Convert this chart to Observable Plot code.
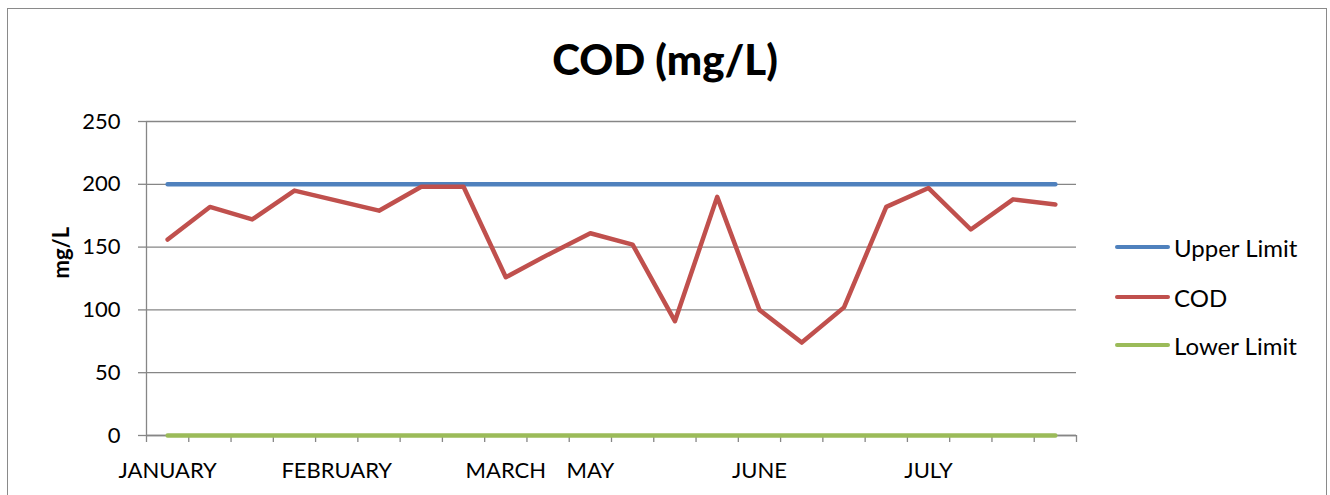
<!DOCTYPE html>
<html>
<head>
<meta charset="utf-8">
<script src="https://cdn.jsdelivr.net/npm/d3@7"></script>
<script src="https://cdn.jsdelivr.net/npm/@observablehq/plot@0.6"></script>
<style>
  html, body { margin: 0; padding: 0; background: #fff; }
  #wrap { position: relative; width: 1330px; height: 495px; overflow: hidden; font-family: Lato, "Open Sans", sans-serif; color: #000; }
  #frame { position: absolute; left: 7px; top: 8px; width: 1320px; height: 540px; border: 1.5px solid #8a8a8a; box-sizing: border-box; }
  #title { position: absolute; left: 0; top: 38px; width: 1330px; text-align: center; font-weight: 900; font-size: 42px; line-height: 42px; }
  #chart { position: absolute; left: 0; top: 100px; }
  .row { position: absolute; left: 1115px; height: 24px; display: flex; align-items: center; font-size: 24px; }
  .swatch { width: 55px; height: 4.5px; border-radius: 3px; margin-right: 4px; }
</style>
</head>
<body>
<div id="wrap">
  <div id="frame"></div>
  <div id="title">COD (mg/L)</div>
  <div id="chart"></div>
  <div id="legend"></div>
</div>
<script>
const categoryLabels = ["JANUARY", "", "", "", "FEBRUARY", "", "", "", "MARCH", "", "MAY", "", "", "", "JUNE", "", "", "", "JULY", "", "", ""];
const codValues = [156, 182, 172, 195, 187, 179, 198, 198, 126, 144, 161, 152, 91, 190, 100, 74, 102, 182, 197, 164, 188, 184];
const upperLimit = [200, 200, 200, 200, 200, 200, 200, 200, 200, 200, 200, 200, 200, 200, 200, 200, 200, 200, 200, 200, 200, 200];
const lowerLimit = [0, 0, 0, 0, 0, 0, 0, 0, 0, 0, 0, 0, 0, 0, 0, 0, 0, 0, 0, 0, 0, 0];
const yTicks = [0, 50, 100, 150, 200, 250];
const seriesNames = ["Upper Limit", "COD", "Lower Limit"];
const seriesColors = ["#4F81BD", "#C0504D", "#9BBB59"];

const rows = categoryLabels.map((label, i) => ({
  pos: i + 0.5, label, cod: codValues[i], upper: upperLimit[i], lower: lowerLimit[i]
}));
const n = categoryLabels.length;
const boundaries = d3.range(0, n + 1);
const labelPositions = rows.filter(r => r.label !== "").map(r => r.pos);

const lineStyle = { strokeWidth: 4.5, strokeLinecap: "round", strokeLinejoin: "round" };

const chart = Plot.plot({
  width: 1330,
  height: 395,
  marginTop: 21,
  marginBottom: 60,
  marginLeft: 146,
  marginRight: 254,
  x: { domain: [0, n] },
  y: { domain: [0, 250] },
  style: { fontFamily: "Lato, 'Open Sans', sans-serif", fontSize: "22px", color: "#000", background: "transparent", overflow: "visible" },
  marks: [
    Plot.gridY(yTicks, { stroke: "#868686", strokeOpacity: 1, strokeWidth: 1.3 }),
    Plot.axisY(yTicks, { tickSize: 8, tickPadding: 18, stroke: "#868686", strokeWidth: 1.3, fill: "#000", fontSize: 22, label: null }),
    Plot.ruleX([0], { stroke: "#868686", strokeWidth: 1.3 }),
    Plot.ruleY([0], { stroke: "#868686", strokeWidth: 1.3 }),
    Plot.axisX(boundaries, { tickSize: 7, stroke: "#868686", strokeWidth: 1.3, tickFormat: () => "", label: null }),
    Plot.axisX(labelPositions, { tickSize: 0, tickPadding: 27, fill: "#000", fontSize: 22, tickFormat: d => categoryLabels[Math.floor(d)], label: null }),
    Plot.line(rows, { x: "pos", y: "upper", stroke: seriesColors[0], ...lineStyle }),
    Plot.line(rows, { x: "pos", y: "cod", stroke: seriesColors[1], ...lineStyle }),
    Plot.line(rows, { x: "pos", y: "lower", stroke: seriesColors[2], ...lineStyle }),
    Plot.text(["mg/L"], { text: d => d, frameAnchor: "left", dx: -85, rotate: -90, fontWeight: "bold", fontSize: 22, fill: "#000" })
  ]
});
document.getElementById("chart").appendChild(chart);

const legendTops = [235, 285, 333];
const legend = document.getElementById("legend");
seriesNames.forEach((name, i) => {
  const row = document.createElement("div");
  row.className = "row";
  row.style.top = legendTops[i] + "px";
  const sw = document.createElement("div");
  sw.className = "swatch";
  sw.style.background = seriesColors[i];
  const t = document.createElement("span");
  t.textContent = name;
  row.appendChild(sw);
  row.appendChild(t);
  legend.appendChild(row);
});
</script>
</body>
</html>
